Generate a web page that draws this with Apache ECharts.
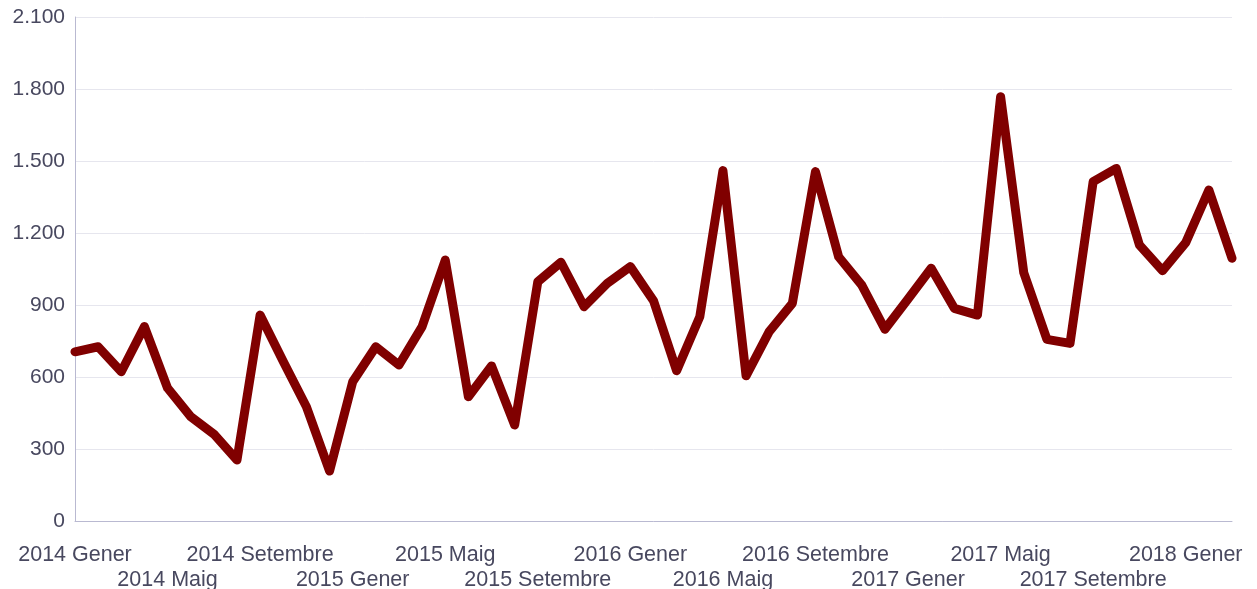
<!DOCTYPE html>
<html>
<head>
<meta charset="utf-8">
<script src="https://cdn.jsdelivr.net/npm/echarts@6/dist/echarts.min.js"></script>
<style>
  html, body { margin: 0; padding: 0; background: #fff; }
  #chart { width: 1257px; height: 589px; }
</style>
</head>
<body>
<div id="chart"></div>
<script>
// months in Catalan, one category per month from 2014 Gener to 2018 Març
const months = ['Gener', 'Febrer', 'Març', 'Abril', 'Maig', 'Juny', 'Juliol', 'Agost', 'Setembre', 'Octubre', 'Novembre', 'Desembre'];
const years = [2014, 2015, 2016, 2017, 2018];
const monthCount = 51;

const values = [
    705, 726, 622, 810, 554, 435, 362, 254, 858, 665, 476, 208,
    580, 726, 650, 810, 1087, 518, 646, 400, 997, 1078, 893, 990,
    1060, 918, 626, 851, 1460, 605, 789, 907, 1456, 1101, 983, 799,
    925, 1053, 886, 858, 1768, 1035, 757, 740, 1414, 1469, 1150, 1043,
    1160, 1379, 1095
];

const yTicks = [0, 300, 600, 900, 1200, 1500, 1800, 2100];

const categories = [];
for (let i = 0; i < monthCount; i++) {
    categories.push(years[Math.floor(i / 12)] + ' ' + months[i % 12]);
}

const labelColor = '#48485f';
const labelFont = 'Liberation Sans, Arial, sans-serif';

// two label rows: each row is its own category axis so labels do not collide
function makeXAxis(rowStart, margin, showLine) {
    return {
        type: 'category',
        data: categories,
        boundaryGap: false,
        position: 'bottom',
        axisLine: { show: showLine, lineStyle: { color: '#b9b9d1', width: 1 } },
        axisTick: { show: false },
        splitLine: { show: false },
        axisLabel: {
            interval: function (idx) { return idx % 8 === rowStart; },
            hideOverlap: false,
            showMinLabel: true,
            showMaxLabel: true,
            margin: margin,
            color: labelColor,
            fontSize: 21.5,
            lineHeight: 25,
            fontFamily: labelFont,
        },
    };
}

function getOption() {
    return {
        animation: false,
        grid: {
            left: 75,
            right: 25,
            top: 17,
            bottom: 68,
            outerBoundsMode: 'none',
            containLabel: false,
        },
        xAxis: [makeXAxis(0, 22, true), makeXAxis(4, 47, false)],
        yAxis: {
            type: 'value',
            min: yTicks[0],
            max: yTicks[yTicks.length - 1],
            interval: yTicks[1] - yTicks[0],
            axisLine: { show: true, lineStyle: { color: '#b9b9d1', width: 1 } },
            axisTick: { show: false },
            splitLine: { lineStyle: { color: '#e6e6ee', width: 1 } },
            axisLabel: {
                margin: 10,
                color: labelColor,
                fontSize: 21,
                showMinLabel: true,
                showMaxLabel: true,
                fontFamily: labelFont,
                formatter: function (v) {
                    return String(v).replace(/\B(?=(\d{3})+(?!\d))/g, '.');
                },
            },
        },
        series: [
            {
                type: 'line',
                xAxisIndex: 0,
                data: values,
                showSymbol: false,
                clip: true,
                lineStyle: { color: '#800000', width: 9, join: 'round', cap: 'round' },
                itemStyle: { color: '#800000' },
            },
        ],
    };
}

const chart = echarts.init(document.getElementById('chart'));
chart.setOption(getOption());
</script>
</body>
</html>
